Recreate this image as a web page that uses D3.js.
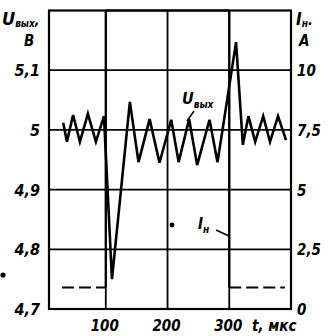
<!DOCTYPE html>
<html>
<head>
<meta charset="utf-8">
<script src="https://cdn.jsdelivr.net/npm/d3@7"></script>
<style>
  body { margin: 0; background: #fff; }
  svg text { font-family: "DejaVu Sans Condensed", "Liberation Sans Narrow", "DejaVu Sans", sans-serif; font-style: italic; font-weight: bold; fill: #000; }
</style>
</head>
<body>
<svg id="chart" width="330" height="336"></svg>
<script>
// output voltage, V
const uTime = [31, 37, 47, 58, 71, 84, 97, 110, 139, 153, 171, 187, 206, 218, 235, 248, 268, 281, 311, 322, 331, 342, 355, 366, 379, 392];
const uVal = [5.012, 4.98, 5.025, 4.98, 5.027, 4.98, 5.023, 4.75, 5.047, 4.946, 5.018, 4.945, 5.017, 4.946, 5.018, 4.941, 5.017, 4.946, 5.147, 4.975, 5.023, 4.98, 5.023, 4.98, 5.023, 4.983];
// load current, A
const iTime = [29, 100, 100, 300, 300, 390];
const iVal = [0.9, 0.9, 12.5, 12.5, 0.9, 0.9];
const iDashed = [true, false, false, false, true];

const uTicks = [4.7, 4.8, 4.9, 5, 5.1];
const uTickLabels = ['4,7', '4,8', '4,9', '5', '5,1'];
const iTicks = [0, 2.5, 5, 7.5, 10];
const iTickLabels = ['0', '2,5', '5', '7,5', '10'];
const tTicks = [100, 200, 300];

const svg = d3.select('#chart');
const plotL = 49, plotR = 291, plotT = 10.5, plotB = 309;

const x = d3.scaleLinear().domain([8, 400]).range([plotL, plotR]);
const yU = d3.scaleLinear().domain([4.7, 5.2]).range([plotB, plotT]);
const yI = d3.scaleLinear().domain([0, 12.5]).range([plotB, plotT]);

// grid
svg.append('g').selectAll('line').data(uTicks.slice(1)).join('line')
  .attr('x1', plotL).attr('x2', plotR)
  .attr('y1', d => yU(d)).attr('y2', d => yU(d))
  .attr('stroke', '#000').attr('stroke-width', 1.8);
svg.append('g').selectAll('line').data(tTicks).join('line')
  .attr('x1', d => x(d)).attr('x2', d => x(d))
  .attr('y1', plotT).attr('y2', plotB)
  .attr('stroke', '#000').attr('stroke-width', 1.8);

// load current (top level hides under the frame)
for (let k = 0; k < iTime.length - 1; k++) {
  svg.append('line')
    .attr('x1', x(iTime[k])).attr('y1', yI(iVal[k]))
    .attr('x2', x(iTime[k + 1])).attr('y2', yI(iVal[k + 1]))
    .attr('stroke', '#000').attr('stroke-width', 2.2)
    .attr('stroke-dasharray', iDashed[k] ? '12,5' : null);
}

// frame
svg.append('rect')
  .attr('x', plotL).attr('y', plotT)
  .attr('width', plotR - plotL).attr('height', plotB - plotT)
  .attr('fill', 'none').attr('stroke', '#000').attr('stroke-width', 2.2);

// output voltage
const line = d3.line().x((d, k) => x(uTime[k])).y(d => yU(d));
svg.append('path')
  .attr('d', line(uVal))
  .attr('fill', 'none').attr('stroke', '#000')
  .attr('stroke-width', 2.6).attr('stroke-linejoin', 'miter');

// left axis labels
svg.append('g').selectAll('text').data(uTicks).join('text')
  .attr('x', 40).attr('y', d => yU(d) + 6)
  .attr('text-anchor', 'end').attr('font-size', 16)
  .text((d, k) => uTickLabels[k]);

// right axis labels
svg.append('g').selectAll('text').data(iTicks).join('text')
  .attr('x', 297).attr('y', d => yI(d) + 6)
  .attr('font-size', 15)
  .text((d, k) => iTickLabels[k]);

// bottom labels
svg.append('g').selectAll('text').data(tTicks).join('text')
  .attr('x', d => x(d) - 1).attr('y', 331)
  .attr('text-anchor', 'middle').attr('font-size', 15)
  .text(d => d);
svg.append('text').attr('x', 252).attr('y', 331).attr('font-size', 15).text('t, мкс');

// axis titles
const uTitle = svg.append('text').attr('x', 2).attr('y', 25).attr('font-size', 18);
uTitle.append('tspan').text('U');
uTitle.append('tspan').attr('font-size', 10).attr('dy', 2).text('вых');
uTitle.append('tspan').attr('font-size', 14).attr('dy', -2).text(',');
svg.append('text').attr('x', 24).attr('y', 46).attr('font-size', 15).text('В');

const iTitle = svg.append('text').attr('x', 296).attr('y', 25).attr('font-size', 17);
iTitle.append('tspan').text('I');
iTitle.append('tspan').attr('font-size', 10).attr('dy', 2).text('н');
iTitle.append('tspan').attr('font-size', 14).attr('dy', -2).text('.');
svg.append('text').attr('x', 299).attr('y', 46).attr('font-size', 15).text('A');

// curve annotations
const uNote = svg.append('text').attr('x', 182).attr('y', 104).attr('font-size', 16);
uNote.append('tspan').text('U');
uNote.append('tspan').attr('font-size', 10).attr('dy', 4).text('вых');
svg.append('line').attr('x1', 194).attr('y1', 111).attr('x2', 187).attr('y2', 121)
  .attr('stroke', '#000').attr('stroke-width', 1.5);

const iNote = svg.append('text').attr('x', 198).attr('y', 229).attr('font-size', 15);
iNote.append('tspan').text('I');
iNote.append('tspan').attr('font-size', 10).attr('dy', 4).text('н');
svg.append('line').attr('x1', 216).attr('y1', 230).attr('x2', 229).attr('y2', 236)
  .attr('stroke', '#000').attr('stroke-width', 1.5);

// specks from the scan
svg.append('circle').attr('cx', 3).attr('cy', 275).attr('r', 2.6).attr('fill', '#000');
svg.append('circle').attr('cx', 172).attr('cy', 225).attr('r', 2.4).attr('fill', '#000');
</script>
</body>
</html>
